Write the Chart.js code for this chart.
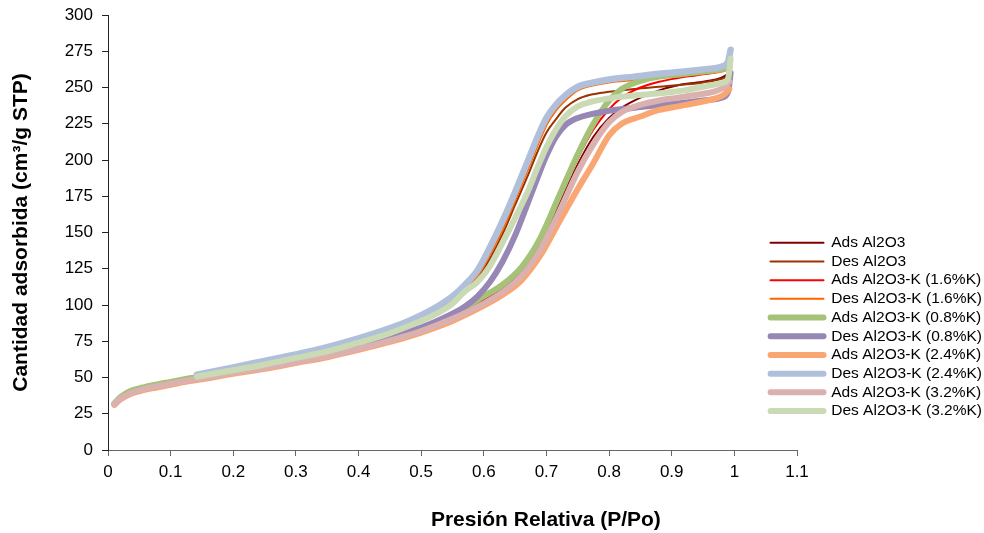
<!DOCTYPE html>
<html>
<head>
<meta charset="utf-8">
<script src="https://cdn.jsdelivr.net/npm/chart.js@4/dist/chart.umd.min.js"></script>
<style>
  html, body { margin: 0; padding: 0; background: #fff; }
  #wrap { width: 984px; height: 533px; }
</style>
</head>
<body>
<div id="wrap"><canvas id="c" width="984" height="533"></canvas></div>
<script>
// ---- Data ----
const seriesLabels = [
  'Ads Al2O3', 'Des Al2O3',
  'Ads Al2O3-K (1.6%K)', 'Des Al2O3-K (1.6%K)',
  'Ads Al2O3-K (0.8%K)', 'Des Al2O3-K (0.8%K)',
  'Ads Al2O3-K (2.4%K)', 'Des Al2O3-K (2.4%K)',
  'Ads Al2O3-K (3.2%K)', 'Des Al2O3-K (3.2%K)'
];

// relative pressure grid for adsorption branches
const adsP = [0.01, 0.02, 0.035, 0.05, 0.07, 0.1, 0.13, 0.16, 0.2, 0.25, 0.3, 0.35, 0.4, 0.45, 0.5, 0.55,
              0.6, 0.63, 0.66, 0.69, 0.72, 0.75, 0.775, 0.8, 0.82, 0.85, 0.88, 0.91, 0.94, 0.97, 0.985, 0.992];
// relative pressure grid for desorption branches
const desP = [0.994, 0.99, 0.98, 0.95, 0.92, 0.88, 0.84, 0.8, 0.77, 0.75, 0.73, 0.715, 0.7, 0.685, 0.67, 0.65,
              0.63, 0.61, 0.59, 0.57, 0.55, 0.52, 0.48, 0.44, 0.4, 0.35, 0.3, 0.25, 0.2, 0.16, 0.142];

const adsAl2O3   = [31.5, 36, 40, 42, 44, 46.5, 49, 51, 54, 57.5, 61.5, 65.5, 70.5, 76, 83, 92, 103, 111.5, 123, 142, 169, 197, 216, 229, 236, 243, 248, 251.5, 253.5, 255.5, 258, 261];
const desAl2O3   = [261, 258, 256, 253.5, 252, 250.5, 249, 247, 245, 242, 236, 228, 219, 205, 189, 169, 149, 132, 118, 109.5, 103.5, 94.5, 86.5, 80, 74.5, 68.5, 64, 59.5, 55.5, 52, 50.5];
const adsK16     = [31.5, 36, 40, 42, 44, 46.5, 49, 51, 54, 57.5, 61.5, 65.5, 70.5, 76, 83, 92.5, 104, 112.5, 124.5, 144, 172, 201, 221, 235, 243, 250, 254, 256.5, 258.5, 260.5, 263, 266];
const desK16     = [266, 263, 261, 259.5, 258, 256.5, 255, 253.5, 251, 248, 241, 234, 224, 209, 193, 172, 152, 135, 120, 111, 104.5, 95, 87, 80, 75, 69, 64.5, 60, 55.5, 52.5, 51];
const adsK08     = [32, 36.5, 40.5, 42.5, 44.5, 47, 49.5, 51.5, 54.5, 58, 62, 66, 71, 77, 84, 93.5, 106, 114, 126, 146, 175, 204, 225, 241, 249, 254.5, 257.5, 259, 260.5, 262, 263, 264];
const desK08     = [260, 247, 243, 241, 239.5, 238, 236, 234, 231.5, 229, 224, 216, 203, 187, 170, 148, 130, 116, 106, 99, 94, 88, 81.5, 76.5, 71.5, 66, 62, 57.5, 54, 51, 50];
const adsK24     = [31, 35, 38.5, 40.5, 42.5, 45, 47.5, 49.5, 52.5, 56, 60, 64, 69, 74.5, 81, 89, 99.5, 107, 117, 134, 157, 180, 198, 217, 225, 230, 234.5, 237, 239.5, 242.5, 245.5, 249];
const desK24     = [276, 268, 264.5, 262.5, 261, 259.5, 257.5, 255.5, 253, 250.5, 244.5, 238, 229, 215, 199, 178, 158, 140, 124, 114, 106, 97.5, 89, 82.5, 77, 71, 66, 61.5, 57, 53.5, 52];
const adsK32     = [31.5, 35.5, 39, 41.2, 43.2, 45.7, 48.2, 50.2, 53.2, 56.7, 60.7, 64.8, 69.8, 75.5, 82, 90.5, 101, 109, 120, 138, 164, 192, 211, 226, 233, 238, 241, 243, 245, 247.5, 250.5, 254];
const desK32     = [270, 256, 253, 250.5, 248, 246, 244.5, 242.5, 240, 237, 230, 221, 209, 194, 178, 160, 143, 127, 116, 109.5, 101, 93, 85.5, 79, 74, 68, 63.5, 59, 55, 52, 50.5];

// axis ticks
const xMin = 0, xMax = 1.1, xStep = 0.1;
const yMin = 0, yMax = 300, yStep = 25;

// ---- Styles ----
const seriesColors = ['#800000', '#993300', '#FF0000', '#FF6600', '#A5C279',
                      '#9787B4', '#F9A672', '#B0C0DA', '#DBB1B0', '#C9DAB5'];
const seriesWidths = [2, 2, 2, 2, 6, 6, 6, 6.5, 6, 6];

const seriesValues = [adsAl2O3, desAl2O3, adsK16, desK16, adsK08, desK08, adsK24, desK24, adsK32, desK32];
const seriesP      = [adsP, desP, adsP, desP, adsP, desP, adsP, desP, adsP, desP];

const FONT = "'Liberation Sans', Arial, sans-serif";
Chart.defaults.font.family = FONT;
Chart.defaults.color = '#000';

const datasets = seriesLabels.map((label, i) => ({
  label,
  data: seriesP[i].map((p, k) => ({ x: p, y: seriesValues[i][k] })),
  borderColor: seriesColors[i],
  backgroundColor: seriesColors[i],
  borderWidth: seriesWidths[i],
  borderCapStyle: 'round',
  borderJoinStyle: 'round',
  pointRadius: 0,
  pointHoverRadius: 0,
  pointBorderWidth: seriesWidths[i],
  pointBorderColor: seriesColors[i],
  cubicInterpolationMode: 'monotone',
  fill: false,
  order: seriesLabels.length - 1 - i   // later series drawn on top (as in the reference)
}));

// place the legend overlapping the right of the plot, as in the reference
const legendPlacer = {
  id: 'legendPlacer',
  afterLayout(chart) {
    const lg = chart.legend;
    if (!lg) return;
    const w = lg.width, h = lg.height;
    lg.left = 767.3; lg.top = 231.8;
    lg.right = lg.left + w; lg.bottom = lg.top + h;
  }
};

const xTitle = ' '.repeat(32) + 'Presión Relativa (P/Po)';

new Chart(document.getElementById('c'), {
  type: 'line',
  data: { datasets },
  plugins: [legendPlacer],
  options: {
    responsive: false,
    animation: false,
    devicePixelRatio: 1,
    layout: { padding: { left: 0, right: 187, top: 15, bottom: 0 } },
    plugins: {
      tooltip: { enabled: false },
      legend: {
        position: 'chartArea',
        align: 'start',
        labels: {
          usePointStyle: true,
          pointStyle: 'line',
          pointStyleWidth: 53,
          padding: 3.2,
          font: { size: 15.5, family: FONT },
          color: '#000',
          sort: (a, b) => a.datasetIndex - b.datasetIndex,
          generateLabels: (chart) => {
            const items = Chart.defaults.plugins.legend.labels.generateLabels(chart);
            items.forEach(it => {
              const ds = chart.data.datasets[it.datasetIndex];
              it.lineWidth = Math.min(ds.borderWidth, 6);
              it.strokeStyle = ds.borderColor;
              it.pointStyle = 'line';
              it.lineCap = 'round';
            });
            return items;
          }
        }
      }
    },
    scales: {
      x: {
        type: 'linear',
        position: 'bottom',
        min: xMin, max: xMax,
        ticks: {
          stepSize: xStep,
          font: { size: 17 },
          color: '#000',
          padding: 6,
          maxRotation: 0,
          autoSkip: false,
          callback: (v) => String(Math.round(v * 10) / 10)
        },
        grid: { drawOnChartArea: false, tickLength: 6, color: '#666', lineWidth: 1 },
        border: { color: '#666', width: 1 },
        title: {
          display: true,
          text: xTitle,
          font: { size: 21, weight: 'bold' },
          color: '#000',
          padding: { top: 0, bottom: 0 }
        },
        afterFit: (s) => { s.height = 83; s.paddingLeft = 0; s.paddingRight = 0; }
      },
      y: {
        type: 'linear',
        min: yMin, max: yMax,
        ticks: {
          stepSize: yStep,
          font: { size: 17 },
          color: '#000',
          padding: 9
        },
        grid: { drawOnChartArea: false, tickLength: 6, color: '#222', lineWidth: 1 },
        border: { color: '#222', width: 1 },
        title: {
          display: true,
          text: 'Cantidad adsorbida (cm³/g STP)',
          font: { size: 21, weight: 'bold' },
          color: '#000',
          padding: { top: 9, bottom: 0 }
        },
        afterFit: (s) => { s.width = 108; s.paddingTop = 0; s.paddingBottom = 0; }
      }
    }
  }
});
</script>
</body>
</html>
